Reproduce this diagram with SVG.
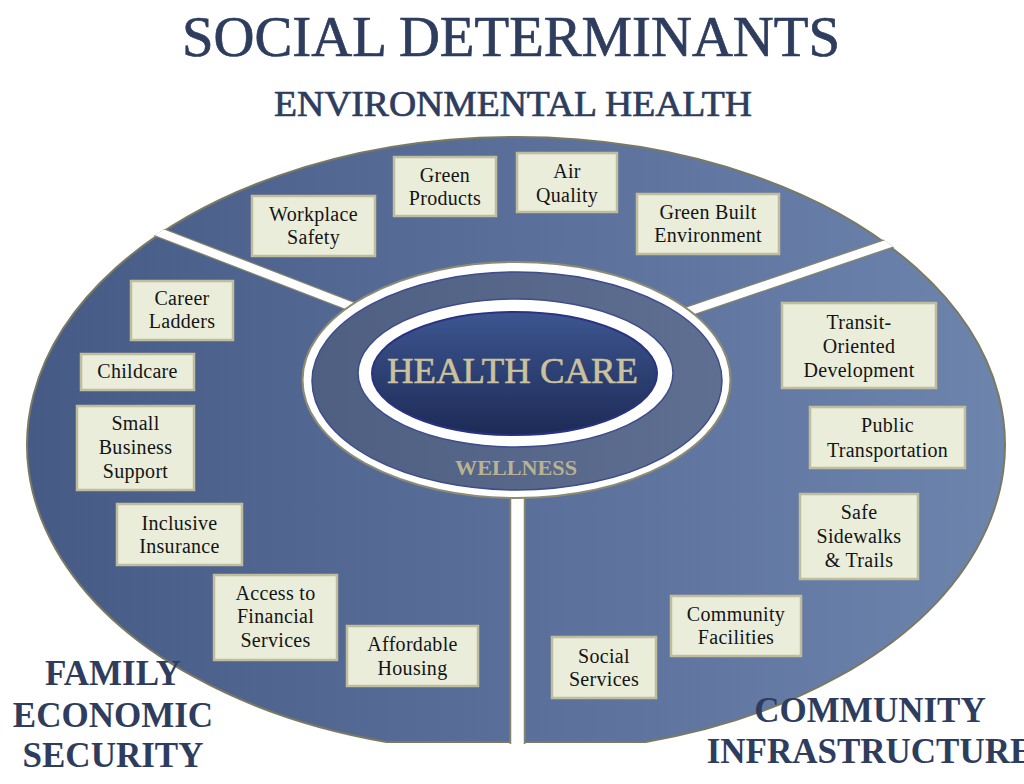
<svg xmlns="http://www.w3.org/2000/svg" width="1024" height="784" viewBox="0 0 1024 784">
<defs>
<linearGradient id="gOuter" gradientUnits="userSpaceOnUse" x1="27" y1="0" x2="1005" y2="0">
<stop offset="0" stop-color="#465a86"/>
<stop offset="1" stop-color="#6d84ad"/>
</linearGradient>
<linearGradient id="gBand" gradientUnits="userSpaceOnUse" x1="312" y1="0" x2="722" y2="0">
<stop offset="0" stop-color="#4f5f82"/>
<stop offset="1" stop-color="#5f6f91"/>
</linearGradient>
<linearGradient id="gCore" x1="0" y1="0" x2="0" y2="1">
<stop offset="0" stop-color="#3d5690"/>
<stop offset="1" stop-color="#1d2a56"/>
</linearGradient>
<clipPath id="clipOuter">
<path d="M 386.3 744 A 491 310 0 1 1 645.7 744 Z"/>
</clipPath>
</defs>
<style>
.box{fill:#e9edda;stroke:#c0bd9d;stroke-width:2.5}
.bt{font-family:"Liberation Serif",serif;font-size:20px;fill:#141414;text-anchor:middle;letter-spacing:0.3px}
.hd{font-family:"Liberation Serif",serif;fill:#2e3d5e;stroke:#2e3d5e;stroke-width:0.7;text-anchor:middle}
.sec{font-family:"Liberation Serif",serif;font-weight:bold;font-size:35px;fill:#2e3d5e;text-anchor:middle}
.gapEdge{stroke:#85856e;fill:none}
.gap{stroke:#ffffff;fill:none}
</style>
<rect x="0" y="0" width="1024" height="784" fill="#ffffff"/>

<g id="titles">
<text class="hd" x="511" y="56" font-size="56" textLength="658" lengthAdjust="spacingAndGlyphs">SOCIAL DETERMINANTS</text>
<text class="hd" x="513" y="116" font-size="35" textLength="478" lengthAdjust="spacingAndGlyphs">ENVIRONMENTAL HEALTH</text>
</g>

<g id="sectors">
<path d="M 386.5 742 A 489 308 0 1 1 645.5 742 Z" fill="url(#gOuter)" stroke="#7a7a62" stroke-width="2"/>
</g>

<g id="connectors" clip-path="url(#clipOuter)">
<line class="gapEdge" x1="516" y1="370" x2="60" y2="194" stroke-width="11"/>
<line class="gap" x1="516" y1="370" x2="60" y2="194" stroke-width="8.5"/>
<line class="gapEdge" x1="516" y1="370" x2="996" y2="207" stroke-width="11"/>
<line class="gap" x1="516" y1="370" x2="996" y2="207" stroke-width="8.5"/>
<line class="gapEdge" x1="517.5" y1="380" x2="517.5" y2="760" stroke-width="16"/>
<line class="gap" x1="517.5" y1="380" x2="517.5" y2="760" stroke-width="12.5"/>
</g>

<g id="center">
<ellipse cx="516.5" cy="380" rx="214" ry="118" fill="#ffffff" stroke="#8c8c74" stroke-width="2"/>
<ellipse cx="517" cy="381" rx="205" ry="109" fill="url(#gBand)" stroke="#3e4c8c" stroke-width="1.5"/>
<ellipse cx="515.5" cy="373" rx="157.5" ry="74" fill="#ffffff" stroke="#3e4c8c" stroke-width="1.5"/>
<ellipse cx="514.5" cy="373.5" rx="142.5" ry="61.5" fill="url(#gCore)" stroke="#2a3283" stroke-width="2"/>
<text x="512.5" y="383" font-family="Liberation Serif, serif" font-size="36" fill="#cbc29d" stroke="#cbc29d" stroke-width="0.6" text-anchor="middle" textLength="251" lengthAdjust="spacingAndGlyphs">HEALTH CARE</text>
<text x="516" y="475" font-family="Liberation Serif, serif" font-weight="bold" font-size="22" fill="#bab393" text-anchor="middle" textLength="122" lengthAdjust="spacingAndGlyphs">WELLNESS</text>
</g>

<g id="workplace-safety">
<rect class="box" x="252" y="196" width="123" height="60"/>
<text class="bt" x="313.5" y="221">Workplace</text>
<text class="bt" x="313.5" y="244">Safety</text>
</g>
<g id="green-products">
<rect class="box" x="394" y="157" width="102" height="59"/>
<text class="bt" x="445" y="182">Green</text>
<text class="bt" x="445" y="204.5">Products</text>
</g>
<g id="air-quality">
<rect class="box" x="517" y="153" width="100" height="59"/>
<text class="bt" x="567" y="178">Air</text>
<text class="bt" x="567" y="202">Quality</text>
</g>
<g id="green-built-environment">
<rect class="box" x="637" y="194" width="142" height="60"/>
<text class="bt" x="708" y="219">Green Built</text>
<text class="bt" x="708" y="242">Environment</text>
</g>

<g id="career-ladders">
<rect class="box" x="131" y="281" width="102" height="59"/>
<text class="bt" x="182" y="305">Career</text>
<text class="bt" x="182" y="328">Ladders</text>
</g>
<g id="childcare">
<rect class="box" x="81" y="354" width="113" height="36"/>
<text class="bt" x="137.5" y="378">Childcare</text>
</g>
<g id="small-business-support">
<rect class="box" x="77" y="406" width="117" height="84"/>
<text class="bt" x="135.5" y="430">Small</text>
<text class="bt" x="135.5" y="454">Business</text>
<text class="bt" x="135.5" y="478">Support</text>
</g>
<g id="inclusive-insurance">
<rect class="box" x="117" y="504" width="125" height="61"/>
<text class="bt" x="179.5" y="530">Inclusive</text>
<text class="bt" x="179.5" y="553">Insurance</text>
</g>
<g id="access-financial-services">
<rect class="box" x="214" y="575" width="123" height="85"/>
<text class="bt" x="275.5" y="600">Access to</text>
<text class="bt" x="275.5" y="623">Financial</text>
<text class="bt" x="275.5" y="647">Services</text>
</g>
<g id="affordable-housing">
<rect class="box" x="347" y="626" width="131" height="60"/>
<text class="bt" x="412.5" y="651">Affordable</text>
<text class="bt" x="412.5" y="675">Housing</text>
</g>

<g id="transit-oriented-development">
<rect class="box" x="782" y="303" width="154" height="85"/>
<text class="bt" x="859" y="329">Transit-</text>
<text class="bt" x="859" y="353">Oriented</text>
<text class="bt" x="859" y="377">Development</text>
</g>
<g id="public-transportation">
<rect class="box" x="810" y="407" width="155" height="61"/>
<text class="bt" x="887.5" y="432">Public</text>
<text class="bt" x="887.5" y="457">Transportation</text>
</g>
<g id="safe-sidewalks-trails">
<rect class="box" x="800" y="494" width="118" height="85"/>
<text class="bt" x="859" y="519">Safe</text>
<text class="bt" x="859" y="543">Sidewalks</text>
<text class="bt" x="859" y="567">&amp; Trails</text>
</g>
<g id="community-facilities">
<rect class="box" x="671" y="596" width="130" height="60"/>
<text class="bt" x="736" y="621">Community</text>
<text class="bt" x="736" y="644">Facilities</text>
</g>
<g id="social-services">
<rect class="box" x="552" y="637" width="104" height="61"/>
<text class="bt" x="604" y="663">Social</text>
<text class="bt" x="604" y="686">Services</text>
</g>

<g id="family-economic-security">
<text class="sec" x="113" y="685">FAMILY</text>
<text class="sec" x="113" y="727">ECONOMIC</text>
<text class="sec" x="113" y="767">SECURITY</text>
</g>
<g id="community-infrastructure">
<text class="sec" x="870" y="722">COMMUNITY</text>
<text class="sec" x="870" y="763">INFRASTRUCTURE</text>
</g>
</svg>
